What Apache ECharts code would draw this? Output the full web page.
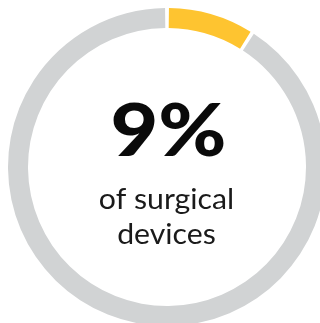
<!DOCTYPE html>
<html><head><meta charset="utf-8">
<style>html,body{margin:0;padding:0;background:#fff}#c{width:320px;height:323px}</style>
<script src="https://cdn.jsdelivr.net/npm/echarts@6/dist/echarts.min.js"></script>
</head><body><div id="c"></div>
<script>
var categories = ['Surgical devices', 'Other'];
var values = [9, 91];
var colors = ['#FEC430', '#D1D3D4'];
var bigLabel = '9%';
var subLines = ['of surgical', 'devices'];

var chart = echarts.init(document.getElementById('c'), null, {renderer: 'canvas'});
chart.setOption({
  animation: false,
  series: [{
    type: 'pie',
    center: [167, 167],
    radius: [139, 159],
    startAngle: 90,
    clockwise: true,
    padAngle: 1.4,
    silent: true,
    label: {show: false},
    labelLine: {show: false},
    data: categories.map(function (n, i) {
      return {name: n, value: values[i], itemStyle: {color: colors[i]}};
    })
  }],
  graphic: [
    {type: 'text', x: 168.5, y: 132, scaleX: 1.13,
     style: {text: bigLabel, font: '900 73px Lato', fill: '#0a0a0a', align: 'center', verticalAlign: 'middle'}},
    {type: 'text', x: 166.5, y: 200, scaleX: 1.08,
     style: {text: subLines[0], font: '400 28px Lato', fill: '#1a1a1a', align: 'center', verticalAlign: 'middle'}},
    {type: 'text', x: 166.5, y: 235, scaleX: 1.08,
     style: {text: subLines[1], font: '400 28px Lato', fill: '#1a1a1a', align: 'center', verticalAlign: 'middle'}}
  ]
});
</script></body></html>
